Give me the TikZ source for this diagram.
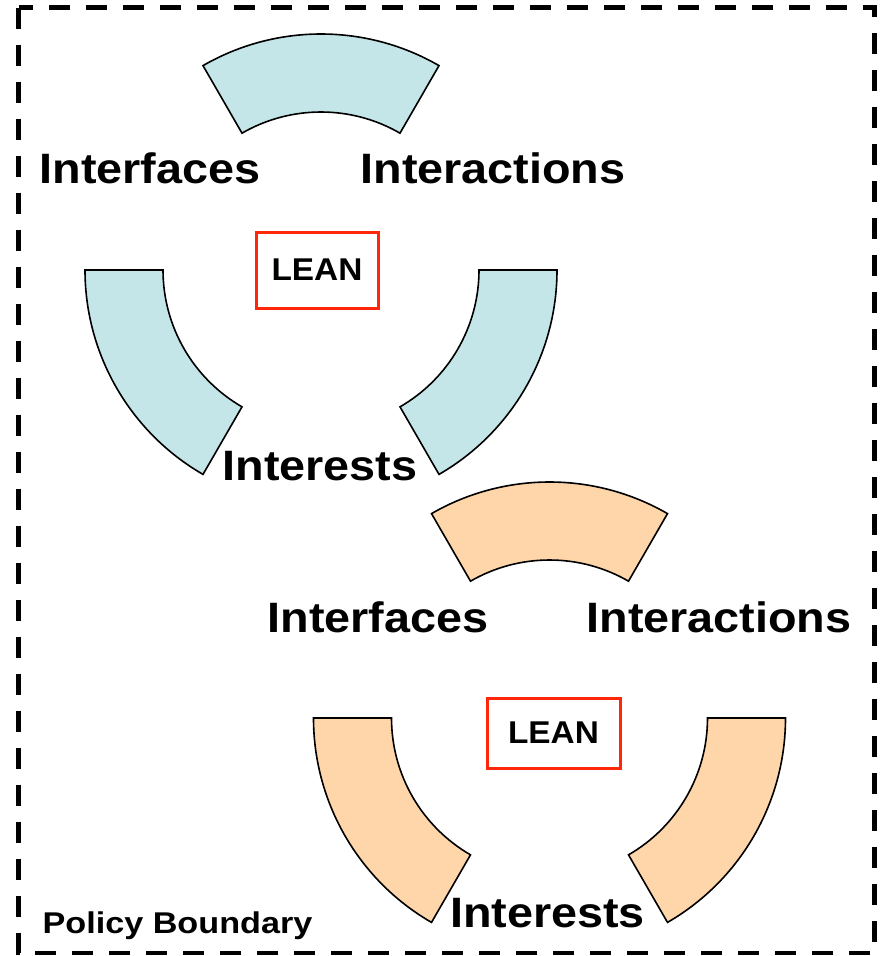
\documentclass[tikz,border=0pt]{standalone}
\usepackage{fontspec}
\setmainfont{Liberation Sans}
\definecolor{segblue}{RGB}{197,230,232}
\definecolor{segorange}{RGB}{254,214,170}
\definecolor{leanred}{RGB}{255,38,10}
\newcommand{\bigtxt}[1]{\fontsize{42.5}{42.5}\selectfont\bfseries\scalebox{1.1}[1]{#1}}
\newcommand{\leantxt}[1]{\fontsize{31.5}{31.5}\selectfont\bfseries\scalebox{1.06}[1]{#1}}
\newcommand{\ringsegs}[1]{%
  \draw[segline, fill=#1] (-60:236) arc[start angle=-60, end angle=-120, radius=236]
     -- (-120:158) arc[start angle=-120, end angle=-60, radius=158] -- cycle;
  \draw[segline, fill=#1] (-180:236) arc[start angle=-180, end angle=-240, radius=236]
     -- (-240:158) arc[start angle=-240, end angle=-180, radius=158] -- cycle;
  \draw[segline, fill=#1] (-300:236) arc[start angle=-300, end angle=-360, radius=236]
     -- (-360:158) arc[start angle=-360, end angle=-300, radius=158] -- cycle;
}
\begin{document}
\begin{tikzpicture}[x=1pt,y=-1pt,
  segline/.style={draw=black, line width=1.6pt, line join=miter},
  lbl/.style={anchor=base, inner sep=0pt, text=black},
  leanbox/.style={draw=leanred, line width=3pt, fill=white, inner sep=0pt},
  boundary/.style={draw=black, line width=4.6pt, dash pattern=on 21pt off 16pt}]
\useasboundingbox (0,0) rectangle (879,956);
\fill[white] (0,0) rectangle (879,956);
\draw[boundary] (18.5,7.5) rectangle (874.5,953);

% group 1 (blue)
\begin{scope}[shift={(321,270)}]
  \ringsegs{segblue}
\end{scope}
\node[lbl] (if1) at (150,183) {\bigtxt{Interfaces}};
\node[lbl] (ia1) at (493,183) {\bigtxt{Interactions}};
\node[lbl] (it1) at (320,480) {\bigtxt{Interests}};
\node[leanbox, minimum width=122pt, minimum height=76pt] (lean1) at (317,270) {\leantxt{LEAN}};

% group 2 (orange)
\begin{scope}[shift={(549.5,718)}]
  \ringsegs{segorange}
\end{scope}
\node[lbl] (if2) at (378,632) {\bigtxt{Interfaces}};
\node[lbl] (ia2) at (719,632) {\bigtxt{Interactions}};
\node[lbl] (it2) at (547.5,927) {\bigtxt{Interests}};
\node[leanbox, minimum width=133pt, minimum height=70pt] (lean2) at (553.5,733) {\leantxt{LEAN}};

\node[lbl] (pb) at (177.5,933) {\fontsize{30}{30}\selectfont\bfseries\scalebox{1.14}[1]{Policy Boundary}};
\end{tikzpicture}
\end{document}
